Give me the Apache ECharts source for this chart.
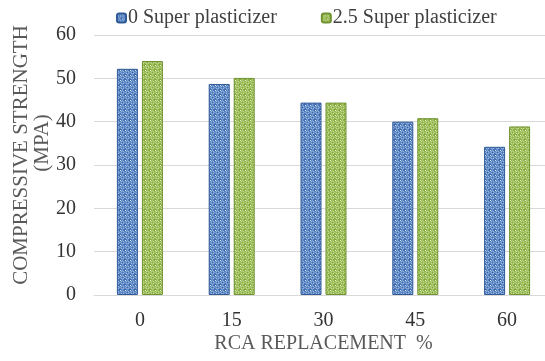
<!DOCTYPE html>
<html>
<head>
<meta charset="utf-8">
<script src="https://cdn.jsdelivr.net/npm/echarts@6/dist/echarts.min.js"></script>
<style>
html,body{margin:0;padding:0;background:#fff;}
#chart{width:545px;height:361px;}
</style>
</head>
<body>
<div id="chart"></div>
<script>
// RCA replacement levels and compressive strength (MPa)
const categories = ['0', '15', '30', '45', '60'];
const seriesNames = ['0 Super plasticizer', '2.5 Super plasticizer'];
const strength0 = [52.2, 48.7, 44.4, 40.0, 34.2];
const strength25 = [54.0, 50.1, 44.4, 40.8, 38.9];
const yTicks = [0, 10, 20, 30, 40, 50, 60];

// Lattice fill used for the bars
function lattice(base, dot, edge) {
  const c = document.createElement('canvas');
  c.width = 5; c.height = 5;
  const g = c.getContext('2d');
  g.fillStyle = base;
  g.fillRect(0, 0, 5, 5);
  g.strokeStyle = dot;
  g.lineWidth = 1;
  g.beginPath();
  g.arc(2.5, 2.5, 1.6, 0, Math.PI * 2);
  g.stroke();
  g.fillStyle = edge;
  g.fillRect(0, 0, 1, 1);
  return c;
}

const chart = echarts.init(document.getElementById('chart'));
const font = '"Liberation Serif", "Times New Roman", serif';

chart.setOption({
  backgroundColor: '#ffffff',
  animation: false,
  legend: {
    top: 3,
    left: 111,
    itemWidth: 9,
    itemHeight: 9,
    itemGap: 44,
    textStyle: { fontFamily: font, fontSize: 20, color: '#404040', padding: [0, 0, 0, -3] },
    data: seriesNames
  },
  grid: { left: 94, right: -8, top: 35, bottom: 66, outerBoundsMode: 'none' },
  xAxis: {
    type: 'category',
    data: categories,
    axisTick: { show: false },
    axisLine: { lineStyle: { color: '#d9d9d9' } },
    axisLabel: { fontFamily: font, fontSize: 20, color: '#333333', margin: 16 },
    name: 'RCA REPLACEMENT  %',
    nameLocation: 'middle',
    nameGap: 39,
    nameMoveOverlap: false,
    nameTextStyle: { fontFamily: font, fontSize: 20, color: '#595959' }
  },
  yAxis: {
    type: 'value',
    min: yTicks[0],
    max: yTicks[yTicks.length - 1],
    interval: 10,
    axisLine: { show: false },
    axisTick: { show: false },
    splitLine: { lineStyle: { color: '#d9d9d9' } },
    axisLabel: { fontFamily: font, fontSize: 20, color: '#333333', margin: 18 },
    name: '{a|COMPRESSIVE STRENGTH}\n{b|(MPA)}',
    nameLocation: 'middle',
    nameGap: 41,
    nameMoveOverlap: false,
    nameRotate: 90,
    nameTextStyle: {
      fontFamily: font, fontSize: 21, color: '#595959', lineHeight: 21, align: 'center',
      padding: [0, 0, 0, 20],
      rich: {
        a: { fontFamily: font, fontSize: 21, color: '#595959', lineHeight: 21 },
        b: { fontFamily: font, fontSize: 21, color: '#595959', lineHeight: 21, padding: [0, 0, 0, 24] }
      }
    }
  },
  series: [
    {
      name: seriesNames[0],
      type: 'bar',
      data: strength0,
      barWidth: 21,
      barGap: '19%',
      itemStyle: {
        color: { image: lattice('#3d6ab0', '#b3cff0', '#dbe8f8'), repeat: 'repeat' },
        borderColor: '#2f5a97',
        borderWidth: 1
      }
    },
    {
      name: seriesNames[1],
      type: 'bar',
      data: strength25,
      barWidth: 21,
      itemStyle: {
        color: { image: lattice('#84aa3c', '#d8e8a8', '#eef5d3'), repeat: 'repeat' },
        borderColor: '#6f9330',
        borderWidth: 1
      }
    }
  ]
});
</script>
</body>
</html>
